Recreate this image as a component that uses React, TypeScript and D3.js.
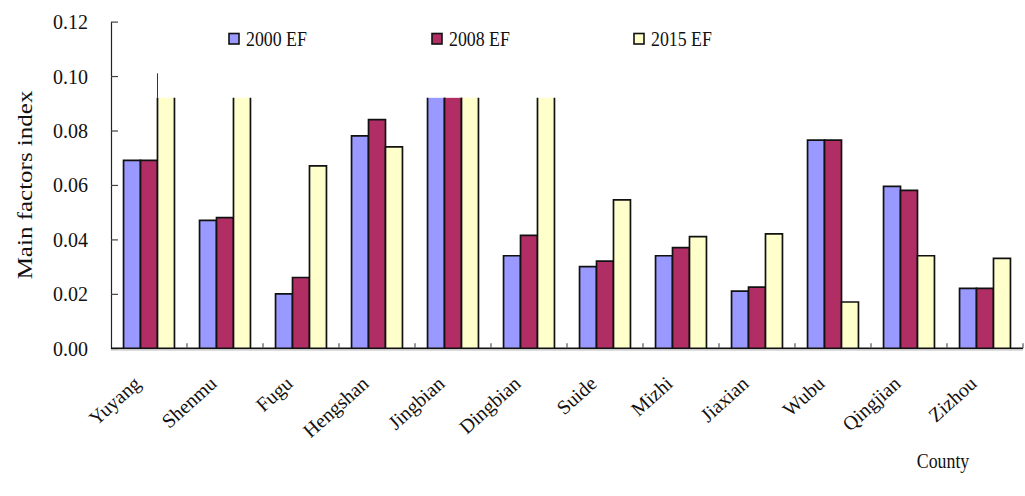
import React, { useEffect, useRef } from "react";
import * as d3 from "d3";

const counties = [
  "Yuyang", "Shenmu", "Fugu", "Hengshan", "Jingbian", "Dingbian",
  "Suide", "Mizhi", "Jiaxian", "Wubu", "Qingjian", "Zizhou",
];
// bars that run off the top of the plot are stored at the cut-off value
const ef2000 = [0.069, 0.047, 0.020, 0.078, 0.092, 0.034, 0.030, 0.034, 0.021, 0.0765, 0.0595, 0.022];
const ef2008 = [0.069, 0.048, 0.026, 0.084, 0.092, 0.0415, 0.032, 0.037, 0.0225, 0.0765, 0.058, 0.022];
const ef2015 = [0.092, 0.092, 0.067, 0.074, 0.092, 0.092, 0.0545, 0.041, 0.042, 0.017, 0.034, 0.033];
const seriesNames = ["2000 EF", "2008 EF", "2015 EF"];
const yTicks = [0, 0.02, 0.04, 0.06, 0.08, 0.1, 0.12];
const CAP = 0.092;
const SPIKE_TOP = 0.101; // stray line above Yuyang

const colors = ["#9999FF", "#B02E64", "#FFFFCC"];
const FONT = "'Liberation Serif', 'Times New Roman', serif";
const SX = 0.85; // legend text in the source looks a bit squeezed

const App = () => {
  const svgRef = useRef<SVGSVGElement>(null);

  useEffect(() => {
    const svg = d3.select(svgRef.current);
    svg.selectAll("*").remove();

    const width = 1025;
    const height = 496;
    const plot = { left: 111, right: 1023, top: 21.6, bottom: 348.3 };

    svg.attr("width", width).attr("height", height);

    const x0 = d3.scaleBand<string>()
      .domain(counties)
      .range([plot.left, plot.right])
      .paddingInner(0.33)
      .paddingOuter(0.165);

    const x1 = d3.scaleBand<string>()
      .domain(seriesNames)
      .range([0, x0.bandwidth()]);

    const y = d3.scaleLinear()
      .domain([0, 0.12])
      .range([plot.bottom, plot.top]);

    const series = [ef2000, ef2008, ef2015];

    // bars
    series.forEach((vals, si) => {
      const g = svg.append("g");
      counties.forEach((c, ci) => {
        const v = vals[ci];
        const bx = x0(c)! + x1(seriesNames[si])!;
        const bw = x1.bandwidth();
        const top = y(v);
        g.append("rect")
          .attr("x", bx)
          .attr("y", top)
          .attr("width", bw)
          .attr("height", y(0) - top)
          .attr("fill", colors[si]);
        const path = v >= CAP
          ? `M${bx},${y(0)}V${top}M${bx + bw},${top}V${y(0)}`
          : `M${bx},${y(0)}V${top}H${bx + bw}V${y(0)}`;
        g.append("path")
          .attr("d", path)
          .attr("fill", "none")
          .attr("stroke", "#111")
          .attr("stroke-width", 1.7);
      });
    });

    // stray vertical line above Yuyang
    const sx = x0("Yuyang")! + x1("2015 EF")!;
    svg.append("line")
      .attr("x1", sx).attr("x2", sx)
      .attr("y1", y(CAP)).attr("y2", y(SPIKE_TOP))
      .attr("stroke", "#333")
      .attr("stroke-width", 1);

    // y axis
    const yAxis = svg.append("g")
      .attr("transform", `translate(${plot.left},0)`)
      .call(
        d3.axisLeft(y)
          .tickValues(yTicks)
          .tickFormat(d3.format(".2f"))
          .tickSizeInner(-7)
          .tickSizeOuter(0)
          .tickPadding(23)
      );
    yAxis.select(".domain").attr("stroke", "#222").attr("stroke-width", 1.2);
    yAxis.selectAll(".tick line").attr("stroke", "#444").attr("stroke-width", 1.2);
    yAxis.selectAll(".tick text")
      .attr("dy", "0.35em")
      .attr("fill", "#111")
      .style("font-family", FONT)
      .style("font-size", "20px");

    // x axis line and boundary ticks
    const step = x0.step();
    const half = (step - x0.bandwidth()) / 2;
    const boundaries = counties.map(c => x0(c)! - half).concat([plot.right]);
    svg.append("line")
      .attr("x1", plot.left).attr("x2", plot.right)
      .attr("y1", y(0) + 1.5).attr("y2", y(0) + 1.5)
      .attr("stroke", "#bbb").attr("stroke-width", 1.2);
    svg.append("line")
      .attr("x1", plot.left).attr("x2", plot.right)
      .attr("y1", y(0)).attr("y2", y(0))
      .attr("stroke", "#111").attr("stroke-width", 1.6);
    svg.selectAll(".xtick")
      .data(boundaries.slice(1))
      .enter()
      .append("line")
      .attr("x1", d => d).attr("x2", d => d)
      .attr("y1", y(0)).attr("y2", y(0) - 5)
      .attr("stroke", "#555").attr("stroke-width", 1.2);

    // county labels
    svg.selectAll(".xlabel")
      .data(counties)
      .enter()
      .append("text")
      .attr("transform", d => `translate(${x0(d)! + x0.bandwidth() / 2 - 7},${y(0) + 37}) rotate(-42)`)
      .attr("text-anchor", "end")
      .attr("fill", "#111")
      .style("font-family", FONT)
      .style("font-size", "20px")
      .text(d => d);

    // y title
    svg.append("text")
      .attr("transform", `translate(32,185) scale(${SX},1) rotate(-90)`)
      .attr("text-anchor", "middle")
      .attr("fill", "#111")
      .style("font-family", FONT)
      .style("font-size", "25px")
      .text("Main factors index");

    // x title
    svg.append("text")
      .attr("transform", `translate(943,468) scale(${SX},1)`)
      .attr("text-anchor", "middle")
      .attr("fill", "#111")
      .style("font-family", FONT)
      .style("font-size", "21px")
      .text("County");

    // legend
    const legendX = [229, 432, 634];
    seriesNames.forEach((name, i) => {
      svg.append("rect")
        .attr("x", legendX[i]).attr("y", 33.5)
        .attr("width", 10).attr("height", 10.5)
        .attr("fill", colors[i])
        .attr("stroke", "#111").attr("stroke-width", 1.6);
      svg.append("text")
        .attr("transform", `translate(${legendX[i] + 17},46) scale(${SX},1)`)
        .attr("fill", "#111")
        .style("font-family", FONT)
        .style("font-size", "21px")
        .text(name);
    });
  }, []);

  return (
    <svg
      ref={svgRef}
      style={{ position: "absolute", left: 0, top: 0, background: "#fff", display: "block" }}
    ></svg>
  );
};

export default App;
